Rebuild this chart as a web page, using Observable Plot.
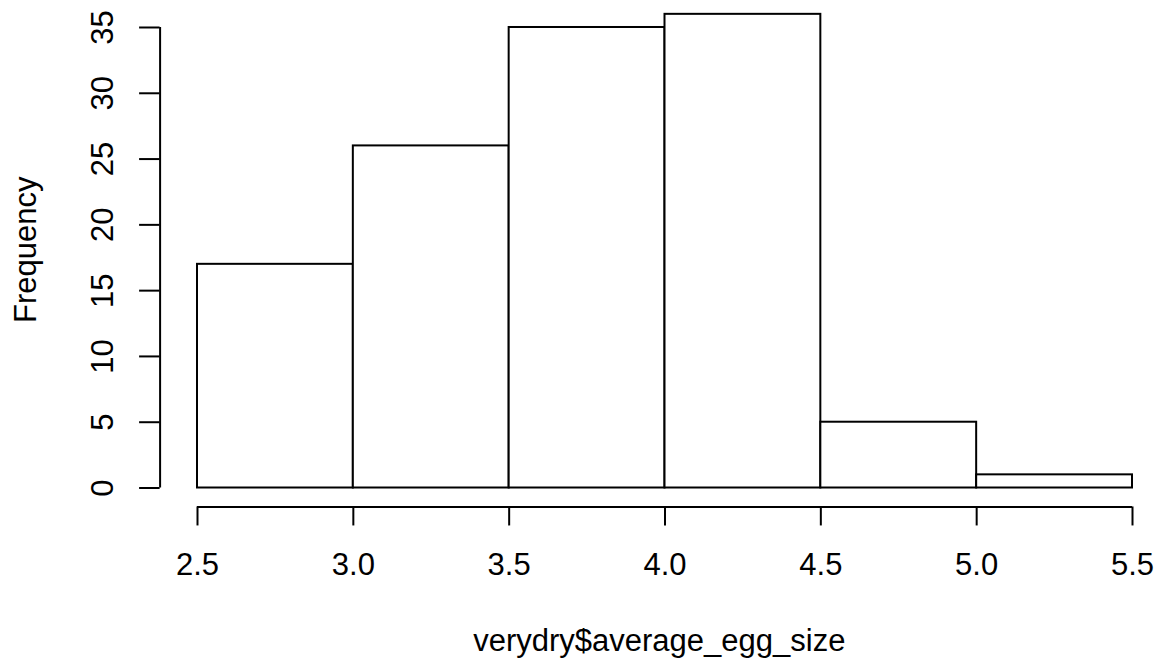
<!DOCTYPE html>
<html><head><meta charset="utf-8">
<script src="https://cdn.jsdelivr.net/npm/d3@7"></script>
<script src="https://cdn.jsdelivr.net/npm/@observablehq/plot@0.6"></script>
<style>html,body{margin:0;padding:0;background:#fff}</style>
</head><body><div id="chart"></div>
<script>
const binStarts = [2.5, 3.0, 3.5, 4.0, 4.5, 5.0];
const binEnds   = [3.0, 3.5, 4.0, 4.5, 5.0, 5.5];
const counts    = [17, 26, 35, 36, 5, 1];
const xTicks = [2.5, 3.0, 3.5, 4.0, 4.5, 5.0, 5.5];
const yTicks = [0, 5, 10, 15, 20, 25, 30, 35];
const xLabel = "verydry$average_egg_size";
const yLabel = "Frequency";

const bins = binStarts.map((x1, i) => ({x1, x2: binEnds[i], count: counts[i]}));

// R-style limits: data range expanded by 4%
const xlim = [2.5, 5.5], ylim = [0, 36];
const xpad = 0.04 * (xlim[1] - xlim[0]);
const ypad = 0.04 * (ylim[1] - ylim[0]);
const xDom = [xlim[0] - xpad, xlim[1] + xpad];
const yDom = [ylim[0] - ypad, ylim[1] + ypad];

const W = 1158, H = 660;
const xRange = [159.6, 1169.4];
const yRange = [506.45, -5.11];
const FS = 31;
const SW = 2;

const chart = Plot.plot({
  width: W, height: H,
  marginLeft: xRange[0], marginRight: 0, marginTop: 0, marginBottom: H - yRange[0],
  style: {fontFamily: "'Liberation Sans', Arial, Helvetica, sans-serif", fontSize: FS + "px", color: "black", background: "white"},
  x: {domain: xDom, range: xRange},
  y: {domain: yDom, range: yRange},
  marks: [
    Plot.rectY(bins, {x1: "x1", x2: "x2", y1: 0, y2: "count", fill: "white", stroke: "black", strokeWidth: SW, inset: 0}),
    // x axis line
    Plot.ruleY([yDom[0]], {x1: xTicks[0], x2: xTicks[xTicks.length - 1], stroke: "black", strokeWidth: SW}),
    Plot.axisX({anchor: "bottom", ticks: xTicks, tickSize: 19, tickPadding: 27.5, tickFormat: d3.format(".1f"), fontSize: FS, strokeWidth: SW, stroke: "black", fill: "black", label: null}),
    // y axis line
    Plot.ruleX([xDom[0]], {y1: yTicks[0], y2: yTicks[yTicks.length - 1], stroke: "black", strokeWidth: SW}),
    Plot.axisY({anchor: "left", ticks: yTicks, tickSize: 20.5, tickFormat: () => "", strokeWidth: SW, stroke: "black", label: null}),
    Plot.text(yTicks, {y: d => d, text: d => String(d), frameAnchor: "left", dx: -57, rotate: -90, textAnchor: "middle", lineAnchor: "middle", fontSize: FS, fill: "black"}),
    // axis titles
    Plot.text([xLabel], {text: d => d, frameAnchor: "bottom", dy: 134, textAnchor: "middle", lineAnchor: "middle", fontSize: FS, fill: "black"}),
    Plot.text([yLabel], {text: d => d, frameAnchor: "left", dx: -134, dy: -4, rotate: -90, textAnchor: "middle", lineAnchor: "middle", fontSize: FS, fill: "black"})
  ]
});
document.getElementById("chart").appendChild(chart);
</script>
</body></html>
